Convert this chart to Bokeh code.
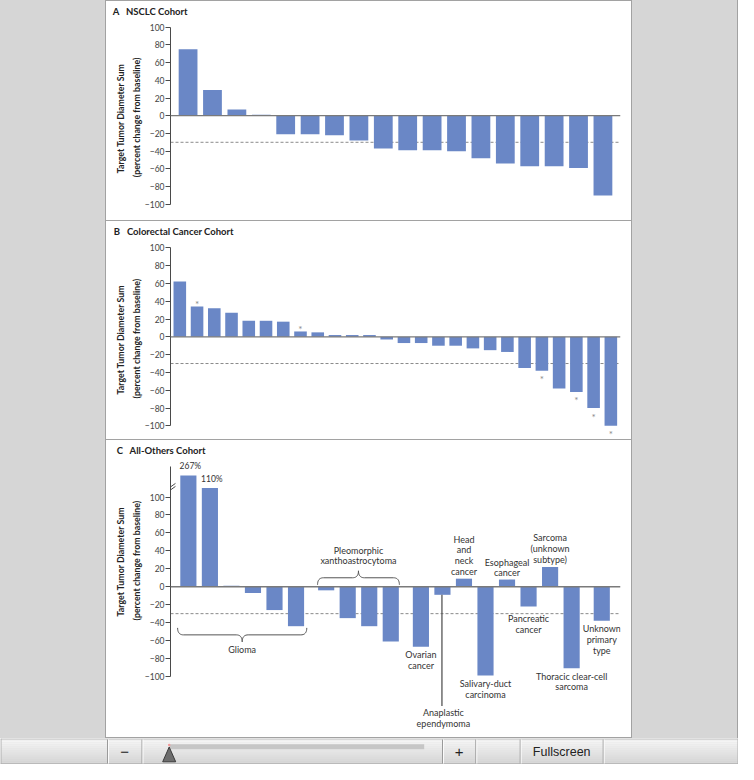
import math
from bokeh.plotting import figure
from bokeh.models import (Range1d, FixedTicker, LabelSet, ColumnDataSource, Label,
                          Span, Arrow, Spacer, Title)
from bokeh.layouts import row, column
from bokeh.embed import file_html
from bokeh.resources import INLINE
from bokeh.core.properties import value

# ---------------- data ----------------
nsclc_change = [75, 29, 7, 1, -21, -21, -22, -28, -37, -39, -39, -40, -48, -54,
                -57, -57, -59, -90]
crc_change = [62, 34, 32, 27, 18, 18, 17, 6, 5, 2, 2, 2, -3, -7, -7, -10, -10,
              -13, -15, -17, -35, -38, -58, -62, -80, -100]
crc_marked = [False, True, False, False, False, False, False, True, False, False,
              False, False, False, False, False, False, False, False, False, False,
              False, True, False, True, True, True]
others_change = [267, 110, 1, -7, -26, -44, -4, -35, -44, -61, -67, -9, 9, -99,
                 8, -22, 22, -91, -38]
others_type = (["Glioma"] * 6 + ["Pleomorphic xanthoastrocytoma"] * 4 +
               ["Ovarian cancer", "Anaplastic ependymoma", "Head and neck cancer",
                "Salivary-duct carcinoma", "Esophageal cancer", "Pancreatic cancer",
                "Sarcoma (unknown subtype)", "Thoracic clear-cell sarcoma",
                "Unknown primary type"])
type_label_lines = {
    "Glioma": ["Glioma"],
    "Pleomorphic xanthoastrocytoma": ["Pleomorphic", "xanthoastrocytoma"],
    "Ovarian cancer": ["Ovarian", "cancer"],
    "Anaplastic ependymoma": ["Anaplastic", "ependymoma"],
    "Head and neck cancer": ["Head", "and", "neck", "cancer"],
    "Salivary-duct carcinoma": ["Salivary-duct", "carcinoma"],
    "Esophageal cancer": ["Esophageal", "cancer"],
    "Pancreatic cancer": ["Pancreatic", "cancer"],
    "Sarcoma (unknown subtype)": ["Sarcoma", "(unknown", "subtype)"],
    "Thoracic clear-cell sarcoma": ["Thoracic clear-cell", "sarcoma"],
    "Unknown primary type": ["Unknown", "primary", "type"],
}
pct_ticks = [-100, -80, -60, -40, -20, 0, 20, 40, 60, 80, 100]
response_cutoff = -30
panel_letters = ["A", "B", "C"]
panel_titles = ["NSCLC Cohort", "Colorectal Cancer Cohort", "All-Others Cohort"]
y_title_lines = ["Target Tumor Diameter Sum", "(percent change from baseline)"]
toolbar_texts = ["\u2212", "+", "Fullscreen"]

# ---------------- styles ----------------
FONT = "Lato"
UI_FONT = "Liberation Sans"
BAR = "#6a87c6"
AXIS = "#4a4a4a"
ZERO = "#7a7a7a"
DASH = "#8a8a8a"
TEXT = "#333333"
STAR = "#8a8a8a"
GRAY = "#d6d6d6"
BORDER = "#a2a2a2"
PANEL_W = 525
FRAME_TOP = 17
LS = 10.7            # line spacing of annotation text (px)
BREAK_TOP = 124      # displayed height of a bar beyond the axis break
GAP = 0.4            # extra space between groups in panel C (bar pitches)
GAP_AFTER = {"Glioma", "Pleomorphic xanthoastrocytoma", "Thoracic clear-cell sarcoma"}
YTITLE_SIZE = 8.8
YTITLE_LEN = (116, 124)   # approx. rendered lengths of the two y-title lines (px)
YTITLE_STANDOFF = (6, 0)  # (outer line, inner line)


class Panel:
    """height: figure height; fl/fw: frame left/width (px);
    p_hi/p_lo: pixel rows of the +100 and -100 ticks; ylab_c: centre row of y title."""

    def __init__(self, k, height, fl, fw, p_hi, p_lo, x0, x1, ylab_c, axis_top=100):
        ft, fh = FRAME_TOP, height - FRAME_TOP
        s = (p_lo - p_hi) / 200.0
        y1 = 100 + (p_hi - ft) / s
        y0 = -100 - (ft + fh - p_lo) / s
        self.fl, self.ft, self.fw, self.fh = fl, ft, fw, fh
        self.x0, self.x1, self.y0, self.y1 = x0, x1, y0, y1
        p = figure(width=PANEL_W, height=height, title=None,
                   x_range=Range1d(x0, x1), y_range=Range1d(y0, y1),
                   output_backend="svg", toolbar_location=None,
                   x_axis_location=None, y_axis_location="left",
                   min_border_left=fl, min_border_right=PANEL_W - fl - fw,
                   min_border_top=ft, min_border_bottom=0,
                   background_fill_color="white", border_fill_color="white",
                   outline_line_color=None)
        p.grid.visible = False
        ax = p.yaxis[0]
        ax.ticker = FixedTicker(ticks=pct_ticks)
        ax.bounds = (-100, axis_top)
        ax.axis_line_color = AXIS
        ax.axis_line_width = 1
        ax.major_tick_line_color = AXIS
        ax.major_tick_out = 5
        ax.major_tick_in = 0
        ax.minor_tick_out = 0
        ax.minor_tick_in = 0
        ax.major_label_standoff = 1
        ax.axis_label_standoff = 0
        ax.axis_label_text_font_size = "8px"
        ax.major_label_text_font = FONT
        ax.major_label_text_font_size = "8.5px"
        ax.major_label_text_color = "#444444"
        # y title: two rotated lines in the left panel (nearest to the axis first)
        for j in (1, 0):
            off = (ft + fh) - (ylab_c + YTITLE_LEN[j] / 2.0)
            p.add_layout(Title(text=y_title_lines[j], align="left", offset=off,
                               standoff=YTITLE_STANDOFF[j], text_font=FONT,
                               text_font_size=f"{YTITLE_SIZE}px",
                               text_font_style="bold", text_color="#222222"), "left")
        p.add_layout(Title(text=panel_letters[k] + "\u00a0\u00a0\u00a0" + panel_titles[k],
                           align="left", offset=6.2 - fl, standoff=5,
                           text_font=FONT, text_font_size="9.5px",
                           text_font_style="bold", text_color="#222222"), "above")
        p.add_layout(Span(location=response_cutoff, dimension="width",
                          line_color=DASH, line_width=1, line_dash="3 2",
                          level="underlay"))
        self.p = p

    def zero_line(self):
        self.p.add_layout(Span(location=0, dimension="width", line_color=ZERO,
                               line_width=1.3))

    def ppu(self):
        return self.fh / (self.y1 - self.y0)

    def X(self, px):
        return self.x0 + (px - self.fl) * (self.x1 - self.x0) / self.fw

    def Y(self, py):
        return self.y1 - (py - self.ft) * (self.y1 - self.y0) / self.fh

    def PX(self, x):
        return self.fl + (x - self.x0) / (self.x1 - self.x0) * self.fw

    def PY(self, y):
        return self.ft + (self.y1 - y) / (self.y1 - self.y0) * self.fh

    def text(self, px, py, txt, size, color=TEXT, align="center"):
        self.p.add_layout(Label(x=self.X(px), y=self.Y(py), text=txt,
                                text_font=FONT, text_font_size=f"{size}px",
                                text_color=color, text_align=align,
                                text_baseline="middle"))

    def seg(self, pxa, pya, pxb, pyb, color=AXIS, width=1.0):
        self.p.add_layout(Arrow(end=None, x_start=self.X(pxa), y_start=self.Y(pya),
                                x_end=self.X(pxb), y_end=self.Y(pyb),
                                line_color=color, line_width=width))


# ---------------- panel A ----------------
nA = len(nsclc_change)
pa = Panel(0, 219, 64, 450, 24.7, 202.7, -0.72, nA - 1 + 0.72, 113.7)
pa.p.vbar(x=list(range(nA)), top=nsclc_change, bottom=0, width=0.77,
          fill_color=BAR, line_color=None)
pa.zero_line()

# ---------------- panel B ----------------
nB = len(crc_change)
pb = Panel(1, 218, 63, 451, 25.3, 204.3, -0.54, nB - 1 + 0.56, 115)
pb.p.vbar(x=list(range(nB)), top=crc_change, bottom=0, width=0.73,
          fill_color=BAR, line_color=None)
pb.zero_line()
ppuB = pb.ppu()
star_x = [i for i, m in enumerate(crc_marked) if m]
star_y = [crc_change[i] + 2.1 / ppuB if crc_change[i] > 0 else crc_change[i] - 8.5 / ppuB
          for i in star_x]
pb.p.add_layout(LabelSet(x="x", y="y", text="t",
                         source=ColumnDataSource(dict(x=star_x, y=star_y,
                                                      t=["*"] * len(star_x))),
                         text_font=value(FONT), text_font_size=value("10px"),
                         text_color=value(STAR), text_align=value("center"),
                         text_baseline=value("middle")))

# ---------------- panel C ----------------
posC = []
u = 0.0
for i, t in enumerate(others_type):
    if i > 0:
        prev = others_type[i - 1]
        u += 1 + (GAP if (prev in GAP_AFTER and prev != t) else 0)
    posC.append(u)
pc = Panel(2, 297, 60, 454, 55.7, 235.7, -0.83, posC[-1] + 0.87, 118, axis_top=134)
shown = [min(v, BREAK_TOP) for v in others_change]
pc.p.vbar(x=posC, top=shown, bottom=0, width=0.75, fill_color=BAR, line_color=None)
pc.zero_line()

# values beyond the axis break
for i, v in enumerate(others_change):
    if v > 100:
        pc.text(pc.PX(posC[i]) + 2, pc.PY(shown[i]) - 9.5, f"{v}%", 8.5)

# axis break marks
ax_px = pc.fl
pc.seg(ax_px - 2, 47.0, ax_px + 5, 42.0, width=1)
pc.seg(ax_px - 2, 50.0, ax_px + 5, 45.0, width=1)


def brace(panel, xa, xb, ye, yt, r=6, n=10):
    ym = (ye + yt) / 2
    xm = (xa + xb) / 2
    pts = []

    def quad(p0, c, p1):
        for k in range(n + 1):
            t = k / n
            pts.append(((1 - t) ** 2 * p0[0] + 2 * (1 - t) * t * c[0] + t * t * p1[0],
                        (1 - t) ** 2 * p0[1] + 2 * (1 - t) * t * c[1] + t * t * p1[1]))
    quad((xa, ye), (xa, ym), (xa + r, ym))
    quad((xm - r, ym), (xm, ym), (xm, yt))
    quad((xm, yt), (xm, ym), (xm + r, ym))
    quad((xb - r, ym), (xb, ym), (xb, ye))
    panel.p.line([panel.X(a) for a, b in pts], [panel.Y(b) for a, b in pts],
                 line_color="#555555", line_width=1)


def group_span(name):
    idx = [i for i, t in enumerate(others_type) if t == name]
    return posC[idx[0]], posC[idx[-1]]

# Glioma brace (below) and label
g0, g1 = group_span("Glioma")
brace(pc, pc.PX(g0 - 0.5), pc.PX(g1 + 0.5), 187, 201)
pc.text(pc.PX((g0 + g1) / 2), 209, type_label_lines["Glioma"][0], 9)
# Pleomorphic brace (above) and label
q0, q1 = group_span("Pleomorphic xanthoastrocytoma")
brace(pc, pc.PX(q0 - 0.4), pc.PX(q1 + 0.4), 143.7, 129.7)
for j, line in enumerate(type_label_lines["Pleomorphic xanthoastrocytoma"]):
    pc.text(pc.PX((q0 + q1) / 2), 109.7 + j * 10, line, 9)

# single-bar labels: side and distance (px) from the bar end
label_place = {
    "Ovarian cancer": ("below", 8),
    "Head and neck cancer": ("above", 7.4),
    "Salivary-duct carcinoma": ("below", 8.2),
    "Esophageal cancer": ("above", 6.8),
    "Pancreatic cancer": ("below", 12),
    "Sarcoma (unknown subtype)": ("above", 8),
    "Thoracic clear-cell sarcoma": ("below", 8),
    "Unknown primary type": ("below", 8),
}
for i, t in enumerate(others_type):
    lines = type_label_lines[t]
    px = pc.PX(posC[i])
    end_py = pc.PY(shown[i])
    if t in label_place:
        side, d = label_place[t]
        if side == "below":
            first = end_py + d
        else:
            first = end_py - d - LS * (len(lines) - 1)
        for j, line in enumerate(lines):
            pc.text(px, first + j * LS, line, 9)
    elif t == "Anaplastic ependymoma":
        pc.seg(px - 0.5, end_py, px - 0.5, 265.3, color="#555555", width=1.3)
        for j, line in enumerate(lines):
            pc.text(px + 1, 272 + j * LS, line, 9)

# ---------------- page chrome ----------------
def block(w, h, color):
    return Spacer(width=w, height=h, margin=0, styles={"background-color": color})

H_TOP = 738
middle = column(block(PANEL_W, 1, BORDER), pa.p, block(PANEL_W, 1, BORDER), pb.p,
                block(PANEL_W, 1, BORDER), pc.p, block(PANEL_W, 1, BORDER), spacing=0)
top = row(block(105, H_TOP, GRAY), block(1, H_TOP, BORDER), middle,
          block(1, H_TOP, BORDER), block(105, H_TOP, GRAY), block(1, H_TOP, BORDER),
          spacing=0)

TB_W, TB_H = 738, 26
tb = figure(width=TB_W, height=TB_H, title=None, x_range=Range1d(0, TB_W),
            y_range=Range1d(TB_H, 0), output_backend="svg", toolbar_location=None,
            x_axis_location=None, y_axis_location=None, min_border=0,
            outline_line_color=None, background_fill_color="#e2e2e2",
            border_fill_color="#e2e2e2")
tb.grid.visible = False
bands = 13
c_top, c_bot = (247, 247, 247), (212, 212, 212)
for k in range(bands):
    f = k / (bands - 1)
    col = "#%02x%02x%02x" % tuple(int(a + (b - a) * f) for a, b in zip(c_top, c_bot))
    tb.quad(left=0, right=TB_W, top=k * 2, bottom=k * 2 + 2, fill_color=col,
            line_color=None)
tb.segment(x0=[0], y0=[0.5], x1=[TB_W], y1=[0.5], line_color="#b4b4b4", line_width=1)
tb.segment(x0=[0], y0=[TB_H - 0.5], x1=[TB_W], y1=[TB_H - 0.5], line_color="#a0a0a0",
           line_width=1)
seps = [107, 141.5, 442, 475.3, 519.7, 602.7]
tb.segment(x0=seps, y0=[1] * len(seps), x1=seps, y1=[TB_H - 1] * len(seps),
           line_color="#9a9a9a", line_width=1)
tb.segment(x0=[s + 1 for s in seps], y0=[1] * len(seps), x1=[s + 1 for s in seps],
           y1=[TB_H - 1] * len(seps), line_color="#fbfbfb", line_width=1)
tb.segment(x0=[0.5, TB_W - 0.5], y0=[0, 0], x1=[0.5, TB_W - 0.5], y1=[TB_H, TB_H],
           line_color="#b0b0b0", line_width=1)
tb.quad(left=168.7, right=423.7, top=5.7, bottom=10.7, fill_color="#c6c6c6",
        line_color=None)
tb.patch(x=[162.2, 168.7, 175.2], y=[23.3, 8.5, 23.3], fill_color="#6d6d6d",
         line_color="#3a3a3a", line_width=1)
tb.scatter(x=[168.7], y=[6.5], size=2.5, fill_color="#f29a9a", line_color=None)
tb.text(x=[124.25, 458.7], y=[13, 13], text=toolbar_texts[:2],
        text_font=value(UI_FONT), text_font_size=value("15px"),
        text_color="#222222", text_align="center", text_baseline="middle")
tb.text(x=[561.2], y=[13.5], text=toolbar_texts[2:], text_font=value(UI_FONT),
        text_font_size=value("12.5px"), text_color="#222222", text_align="center",
        text_baseline="middle")

page = column(top, tb, spacing=0)

open("out.html", "w").write(file_html(page, INLINE))
